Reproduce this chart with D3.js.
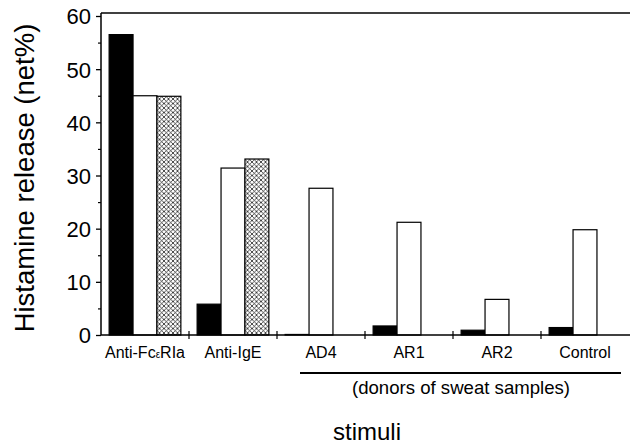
<!DOCTYPE html>
<html>
<head>
<meta charset="utf-8">
<script src="https://cdn.jsdelivr.net/npm/d3@7"></script>
<style>
  body { margin: 0; background: #fff; }
  text { font-family: "Liberation Sans", Arial, sans-serif; fill: #000; }
</style>
</head>
<body>
<div class="chart-container"></div>
<script>
var groups = ['Anti-FcεRIa', 'Anti-IgE', 'AD4', 'AR1', 'AR2', 'Control'];
var series = ['black', 'white', 'hatched'];
var blackValues = [56.5, 5.8, 0.1, 1.7, 0.9, 1.4];
var whiteValues = [45.0, 31.4, 27.6, 21.2, 6.7, 19.8];
var hatchedValues = [44.9, 33.1, null, null, null, null];
var yTicks = [0, 10, 20, 30, 40, 50, 60];
var yMinorTicks = [5, 15, 25, 35, 45, 55];

var width = 630, height = 444;
var margin = {top: 16, left: 101, bottom: 335, right: 630};

var rows = groups.map(function(g, i) {
  return {group: g, values: [blackValues[i], whiteValues[i], hatchedValues[i]]};
});

var svg = d3.select('.chart-container').append('svg')
  .attr('width', width)
  .attr('height', height);

var defs = svg.append('defs');
var pat = defs.append('pattern')
  .attr('id', 'hatch')
  .attr('patternUnits', 'userSpaceOnUse')
  .attr('width', 4.5)
  .attr('height', 4.5);
pat.append('rect').attr('width', 4.5).attr('height', 4.5).attr('fill', '#fff');
pat.append('path').attr('d', 'M0,0L4.5,4.5M4.5,0L0,4.5').attr('stroke', '#000').attr('stroke-width', 0.7);

var x0 = d3.scaleBand()
  .domain(groups)
  .range([margin.left, margin.right - 1]);

var x1 = d3.scaleBand()
  .domain(series)
  .range([0, x0.bandwidth()])
  .paddingOuter(0.34);

var y = d3.scaleLinear()
  .domain([0, 60])
  .range([margin.bottom, margin.top]);

var fills = {black: '#000', white: '#fff', hatched: 'url(#hatch)'};

// bars
var g = svg.selectAll('.group')
  .data(rows)
  .enter().append('g')
    .attr('class', 'group')
    .attr('transform', d => `translate(${x0(d.group)},0)`);

g.selectAll('rect')
  .data(d => d.values.map((v, i) => ({key: series[i], value: v})).filter(d => d.value !== null))
  .enter().append('rect')
    .attr('x', d => x1(d.key))
    .attr('width', x1.bandwidth())
    .attr('y', d => y(d.value))
    .attr('height', d => y(0) - y(d.value))
    .attr('fill', d => fills[d.key])
    .attr('stroke', '#000')
    .attr('stroke-width', 1.2);

// y axis
var yAxis = d3.axisLeft(y).tickValues(yTicks).tickSize(5).tickPadding(5);
var gY = svg.append('g')
  .attr('transform', `translate(${margin.left},0)`)
  .call(yAxis);
gY.select('.domain').remove();
gY.selectAll('text').style('font-size', '22px').attr('dy', '0.36em');
gY.selectAll('line').attr('stroke-width', 1.3);

svg.append('g')
  .attr('transform', `translate(${margin.left},0)`)
  .call(d3.axisLeft(y).tickValues(yMinorTicks).tickSize(3).tickFormat(''))
  .call(s => s.select('.domain').remove())
  .selectAll('line').attr('stroke-width', 1.2);

// frame: left axis, top line, baseline
svg.append('line')
  .attr('x1', margin.left).attr('x2', margin.left)
  .attr('y1', y(60) - 3).attr('y2', y(0))
  .attr('stroke', '#000').attr('stroke-width', 1.5);
svg.append('line')
  .attr('x1', margin.left).attr('x2', margin.right)
  .attr('y1', y(60) - 3).attr('y2', y(60) - 3)
  .attr('stroke', '#000').attr('stroke-width', 1.5);
svg.append('line')
  .attr('x1', margin.left).attr('x2', margin.right)
  .attr('y1', y(0)).attr('y2', y(0))
  .attr('stroke', '#000').attr('stroke-width', 1.5);

// group separators on x axis
svg.selectAll('.sep')
  .data(groups.slice(1))
  .enter().append('line')
    .attr('x1', d => x0(d)).attr('x2', d => x0(d))
    .attr('y1', y(0) - 4).attr('y2', y(0) + 4)
    .attr('stroke', '#000').attr('stroke-width', 1.2);

// category labels
var labels = svg.selectAll('.cat')
  .data(groups)
  .enter().append('text')
    .attr('class', 'cat')
    .attr('x', d => x0(d) + x0.bandwidth() / 2)
    .attr('y', 358)
    .attr('text-anchor', 'middle')
    .style('font-size', '16px');
labels.each(function(d) {
  var t = d3.select(this);
  if (d === 'Anti-FcεRIa') {
    t.append('tspan').text('Anti-Fc');
    t.append('tspan').text('ε').style('font-size', '10px');
    t.append('tspan').text('RIa');
  } else {
    t.text(d);
  }
});

// donors bracket
svg.append('line')
  .attr('x1', x0('AD4') + 23).attr('x2', x0('Control') + x0.bandwidth() - 8)
  .attr('y1', 373).attr('y2', 373)
  .attr('stroke', '#000').attr('stroke-width', 1.8);
svg.append('text')
  .attr('x', 461).attr('y', 394)
  .attr('text-anchor', 'middle')
  .style('font-size', '18.6px')
  .text('(donors of sweat samples)');

// axis titles
svg.append('text')
  .attr('x', 367).attr('y', 440)
  .attr('text-anchor', 'middle')
  .style('font-size', '24px')
  .text('stimuli');

svg.append('text')
  .attr('transform', 'translate(34,178) rotate(-90)')
  .attr('text-anchor', 'middle')
  .style('font-size', '27.5px')
  .text('Histamine release (net%)');
</script>
</body>
</html>
